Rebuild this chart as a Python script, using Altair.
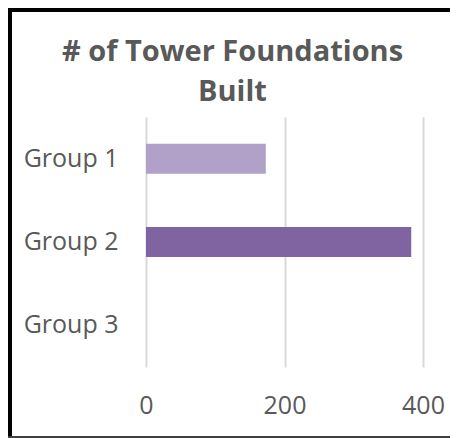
import altair as alt
import pandas as pd

groups = ["Group 1", "Group 2", "Group 3"]
values = [173, 383, 0]
colors = ["#B1A0C7", "#8064A2", "#8064A2"]

df = pd.DataFrame({"group": groups, "value": values, "color": colors})

FONT = "Open Sans"
GRAY = "#595959"

bars = alt.Chart(df).mark_bar().encode(
    y=alt.Y("group:N", sort=groups,
            scale=alt.Scale(paddingInner=0.64, paddingOuter=0.32),
            axis=alt.Axis(title=None, ticks=False, domain=False, grid=False,
                          labelFont=FONT, labelFontSize=25, labelColor=GRAY,
                          labelPadding=28)),
    x=alt.X("value:Q", scale=alt.Scale(domain=[0, 400], nice=False),
            axis=alt.Axis(title=None, values=[0, 200, 400], ticks=False, domain=False,
                          grid=True, gridColor="#D9D9D9", gridWidth=2, labelFlush=False,
                          labelFont=FONT, labelFontSize=25, labelColor=GRAY,
                          labelPadding=26)),
    color=alt.Color("color:N", scale=None),
)

frame = alt.Chart(alt.Data(values=[{}]))
left_border = frame.mark_rule(color="black", strokeWidth=4).encode(
    x=alt.value(-136), y=alt.value(-109), y2=alt.value(321))
top_border = frame.mark_rule(color="black", strokeWidth=4).encode(
    x=alt.value(-138), x2=alt.value(304), y=alt.value(-107))
bottom_border = frame.mark_rule(color="#404040", strokeWidth=2).encode(
    x=alt.value(-138), x2=alt.value(304), y=alt.value(320))

chart = alt.layer(bars, left_border, top_border, bottom_border).properties(
    width=277, height=250,
    padding={"left": 138, "top": 109, "right": 27, "bottom": 71},
    autosize=alt.AutoSizeParams(type="none"),
    title=alt.TitleParams(
        text=["# of Tower Foundations", "Built"],
        font=FONT, fontSize=29, fontWeight="bold", color=GRAY,
        lineHeight=40, anchor="middle", dx=-52, offset=-130, baseline="bottom"),
).configure_view(stroke=None)

chart.save("out.html", embed_options={"renderer": "svg", "actions": False})
